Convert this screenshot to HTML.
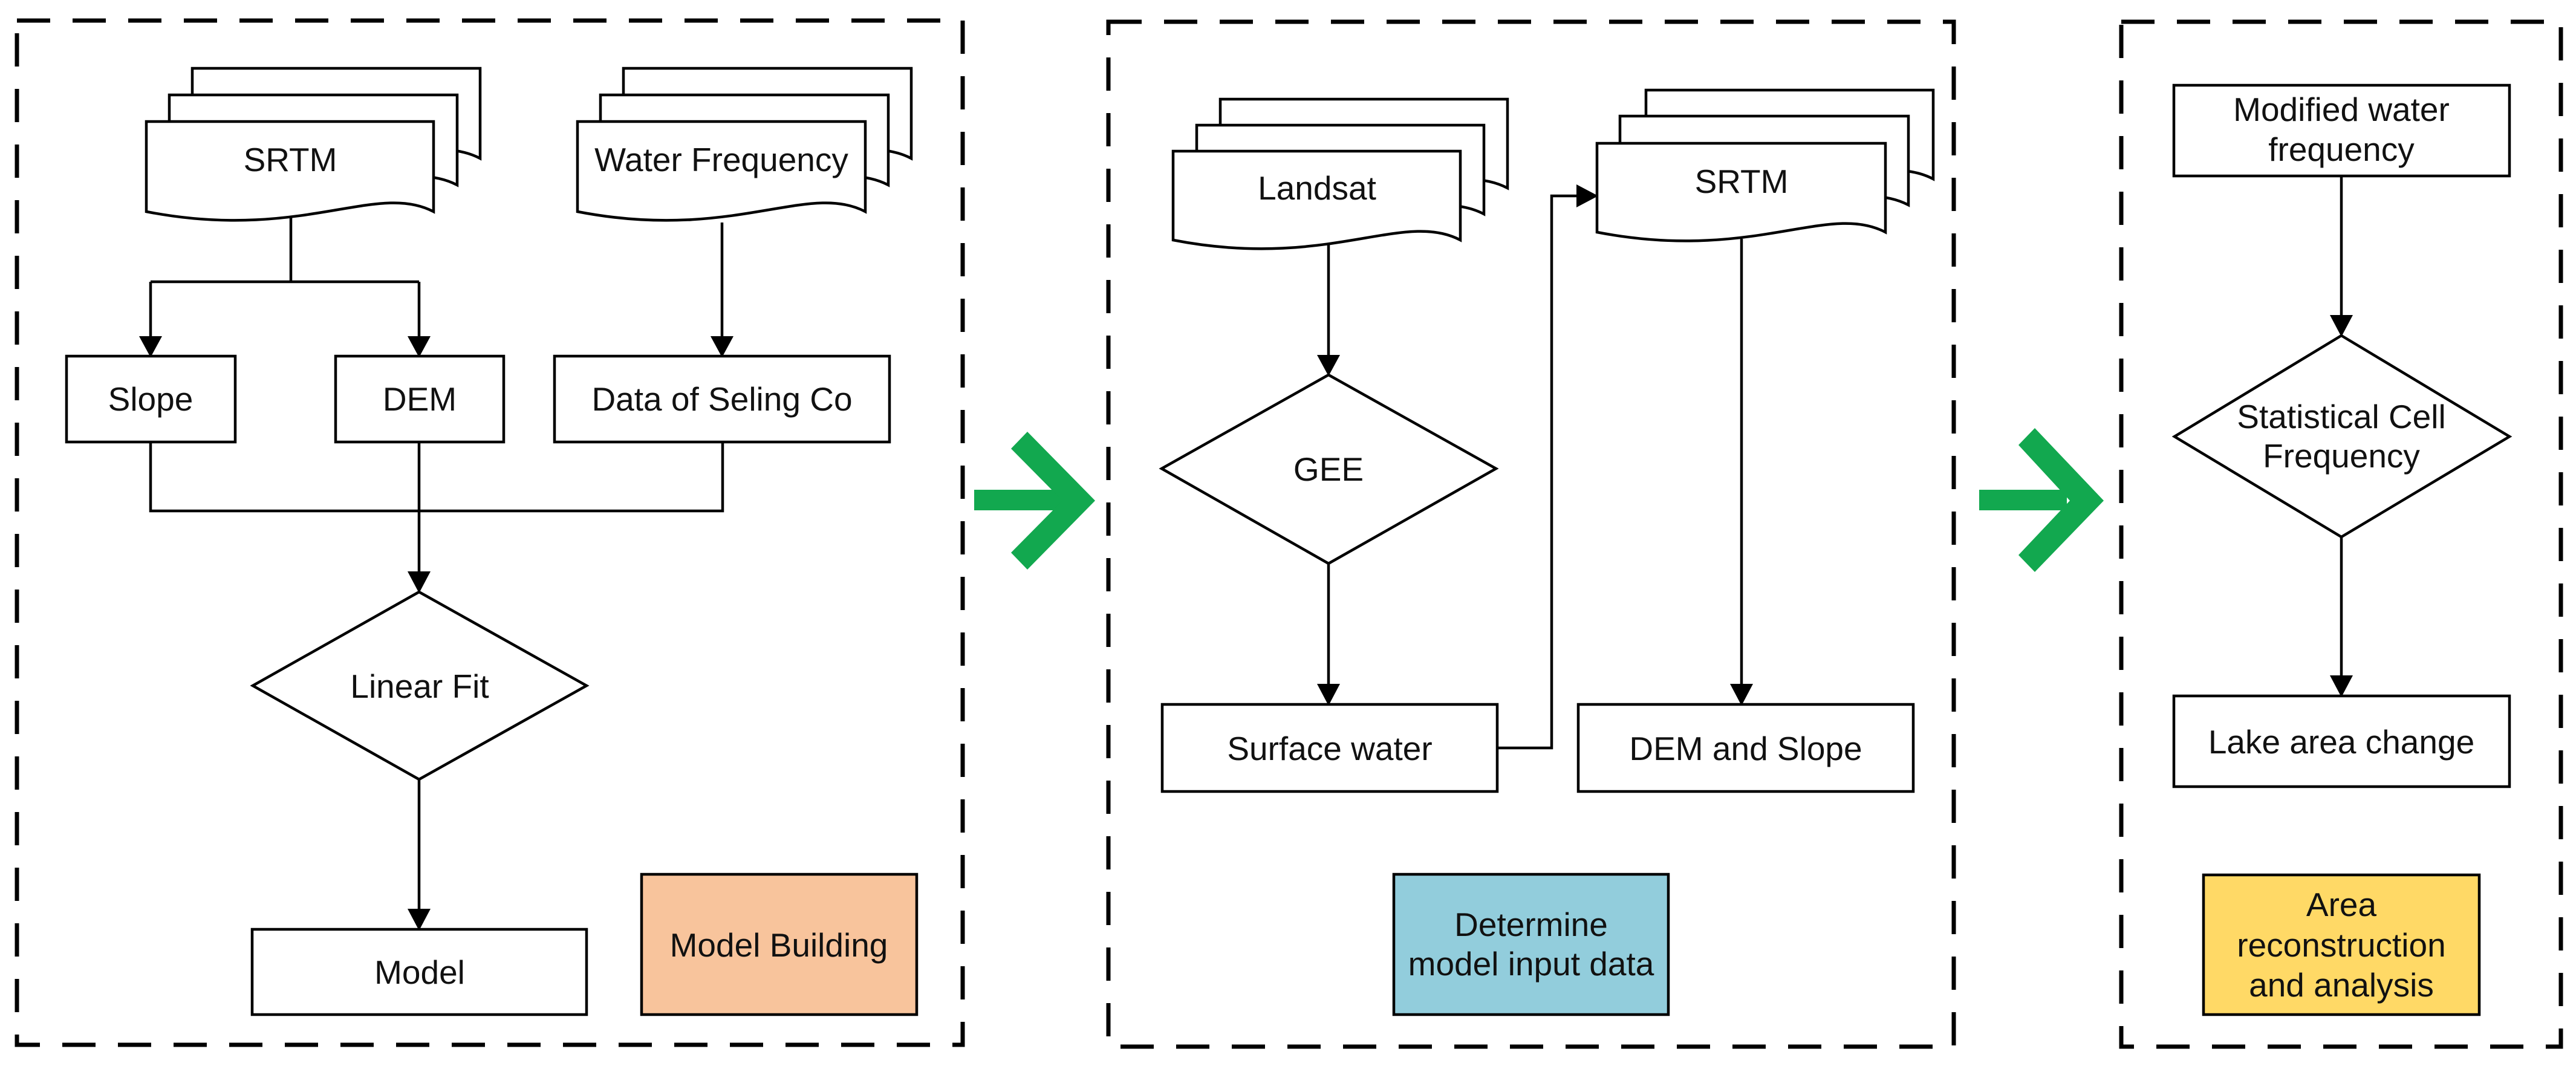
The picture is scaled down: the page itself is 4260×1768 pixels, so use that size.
<!DOCTYPE html>
<html><head><meta charset="utf-8"><style>html,body{margin:0;padding:0;background:#fff}svg{display:block}</style></head>
<body>
<svg width="4260" height="1768" viewBox="0 0 4260 1768" xmlns="http://www.w3.org/2000/svg" font-family="Liberation Sans, Arial, sans-serif" font-size="55" fill="none">
<rect x="0" y="0" width="4260" height="1768" fill="#fff"/>
<g stroke="#000" stroke-width="7" stroke-dasharray="55 37">
<rect x="28" y="34" width="1564" height="1694"/>
<rect x="1833" y="36" width="1398" height="1695"/>
<rect x="3508" y="36" width="727" height="1695"/>
</g>
<g fill="#12A84F">
<rect x="1611" y="810" width="165" height="34"/>
<polygon points="1672,742 1699,714 1811,828 1699,942 1672,914 1757,828"/>
<rect x="3273" y="810" width="145" height="34"/>
<polygon points="3338,736 3365,708 3479,828 3365,946 3338,918 3423,828"/>
</g>
<g stroke="#000" stroke-width="4.5" fill="#fff">
<path d="M318,113 H794 V262 C699,212 575,312 318,262 Z"/>
<path d="M280,157 H756 V306 C661,256 537,356 280,306 Z"/>
<path d="M242,201 H717 V350 C622,300 498,400 242,350 Z"/>
<path d="M1031,113 H1507 V262 C1412,212 1288,312 1031,262 Z"/>
<path d="M993,157 H1469 V306 C1374,256 1250,356 993,306 Z"/>
<path d="M955,201 H1431 V350 C1336,300 1212,400 955,350 Z"/>
<path d="M2018,164 H2493 V311 C2398,261 2274,361 2018,311 Z"/>
<path d="M1979,207 H2454 V354 C2359,304 2235,404 1979,354 Z"/>
<path d="M1940,250 H2415 V397 C2320,347 2196,447 1940,397 Z"/>
<path d="M2722,149 H3197 V296 C3102,246 2978,346 2722,296 Z"/>
<path d="M2679,192 H3156 V339 C3061,289 2937,389 2679,339 Z"/>
<path d="M2641,237 H3118 V384 C3023,334 2899,434 2641,384 Z"/>
<rect x="110" y="589" width="279" height="142"/>
<rect x="555" y="589" width="278" height="142"/>
<rect x="917" y="589" width="554" height="142"/>
<polygon points="693,979 970,1134 693,1289 418,1134"/>
<rect x="417" y="1537" width="553" height="141"/>
<rect x="1061" y="1446" width="455" height="232" fill="#F8C49C"/>
<polygon points="2197,620 2474,775 2197,932 1921,775"/>
<rect x="1922" y="1165" width="554" height="144"/>
<rect x="2610" y="1165" width="554" height="144"/>
<rect x="2305" y="1446" width="454" height="232" fill="#92CDDC"/>
<rect x="3595" y="141" width="555" height="150"/>
<polygon points="3872,555 4150,722 3872,888 3596,722"/>
<rect x="3595" y="1151" width="555" height="150"/>
<rect x="3644" y="1447" width="456" height="231" fill="#FFD966"/>
</g>
<g stroke="#000" stroke-width="4.5">
<path d="M481,360 V466 M249,466 H693 M249,466 V560 M693,466 V560"/>
<path d="M1194,368 V560"/>
<path d="M249,731 V845 H1195 V731 M693,731 V950"/>
<path d="M693,1289 V1508"/>
<path d="M2197,405 V591 M2197,932 V1136"/>
<path d="M2476,1237 H2566 V324 H2612"/>
<path d="M2880,395 V1136"/>
<path d="M3872,291 V526 M3872,888 V1122"/>
</g>
<g fill="#000">
<polygon points="230,556 268,556 249,591"/>
<polygon points="674,556 712,556 693,591"/>
<polygon points="1175,556 1213,556 1194,591"/>
<polygon points="674,945 712,945 693,981"/>
<polygon points="674,1503 712,1503 693,1539"/>
<polygon points="2178,587 2216,587 2197,622"/>
<polygon points="2178,1131 2216,1131 2197,1167"/>
<polygon points="2607,305 2607,343 2643,324"/>
<polygon points="2861,1131 2899,1131 2880,1167"/>
<polygon points="3853,521 3891,521 3872,557"/>
<polygon points="3853,1117 3891,1117 3872,1153"/>
</g>
<g fill="#111" text-anchor="middle">
<text x="480" y="283">SRTM</text>
<text x="1193" y="283">Water Frequency</text>
<text x="249" y="679">Slope</text>
<text x="694" y="679">DEM</text>
<text x="1194" y="679">Data of Seling Co</text>
<text x="694" y="1154">Linear Fit</text>
<text x="694" y="1627">Model</text>
<text x="1288" y="1582">Model Building</text>
<text x="2178" y="330">Landsat</text>
<text x="2880" y="319">SRTM</text>
<text x="2197" y="795">GEE</text>
<text x="2199" y="1257">Surface water</text>
<text x="2887" y="1257">DEM and Slope</text>
<text x="2532" y="1548">Determine</text>
<text x="2532" y="1613">model input data</text>
<text x="3872" y="200">Modified water</text>
<text x="3872" y="266">frequency</text>
<text x="3872" y="708">Statistical Cell</text>
<text x="3872" y="773">Frequency</text>
<text x="3872" y="1246">Lake area change</text>
<text x="3872" y="1515">Area</text>
<text x="3872" y="1582">reconstruction</text>
<text x="3872" y="1648">and analysis</text>
</g>
</svg>
</body></html>
